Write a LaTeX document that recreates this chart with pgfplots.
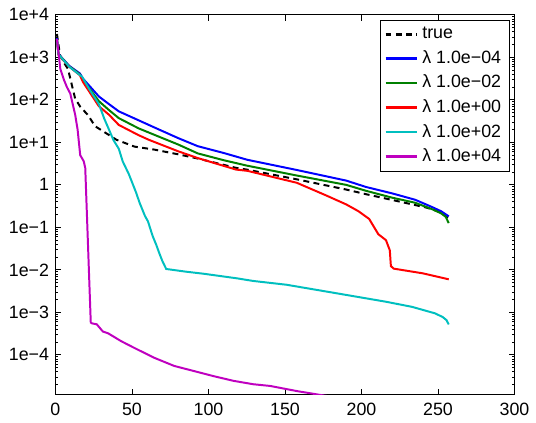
\documentclass[border=0pt]{standalone}
\usepackage{fontspec}
\setmainfont{Liberation Sans}
\usepackage{pgfplots}
\pgfplotsset{compat=1.18}
\definecolor{mgreen}{rgb}{0,0.5,0}
\definecolor{mcyan}{rgb}{0,0.75,0.75}
\definecolor{mmagenta}{rgb}{0.75,0,0.75}

\begin{document}
\begin{tikzpicture}
% keep the page at the proportions of the reference
\path (-28pt,-12pt) rectangle (240pt,199.5pt);
\begin{axis}[
    name=ax, at={(0,0)}, anchor=south west,
    width=232pt, height=192pt, scale only axis,
    ymode=log,
    xmin=0, xmax=300,
    ymin=1.15e-5, ymax=1e4,
    xtick={0,50,100,150,200,250,300},
    ytick={1e-4,1e-3,1e-2,1e-1,1,1e1,1e2,1e3,1e4},
    yticklabels={1e−4,1e−3,1e−2,1e−1,1,1e+1,1e+2,1e+3,1e+4},
    minor ytick={2e-5,3e-5,4e-5,5e-5,6e-5,7e-5,8e-5,9e-5,
        2e-4,3e-4,4e-4,5e-4,6e-4,7e-4,8e-4,9e-4,
        2e-3,3e-3,4e-3,5e-3,6e-3,7e-3,8e-3,9e-3,
        2e-2,3e-2,4e-2,5e-2,6e-2,7e-2,8e-2,9e-2,
        0.2,0.3,0.4,0.5,0.6,0.7,0.8,0.9,
        2,3,4,5,6,7,8,9,
        20,30,40,50,60,70,80,90,
        200,300,400,500,600,700,800,900,
        2000,3000,4000,5000,6000,7000,8000,9000},
    /pgf/number format/assume math mode=true,
    tick label style={font=\fontsize{9}{10}\selectfont},
    yticklabel style={xshift=0.3pt},
    xticklabel style={yshift=-0.8pt},
    major tick length=3pt, minor tick length=1.5pt,
    tick style={black, line width=0.4pt},
    axis line style={line width=0.5pt},
    legend style={at={(0.989,0.987)}, anchor=north east, draw=black,
        line width=0.5pt, font=\fontsize{9}{10}\selectfont,
        inner xsep=2pt, inner ysep=1.5pt, row sep=0.4pt},
    legend cell align=left,
    legend image code/.code={\draw[#1, line width=1.2pt] (0pt,0pt) -- (16pt,0pt);},
]
\addplot[black, line width=1pt, dash pattern=on 3pt off 2.2pt] coordinates {
(1,3548) (3,1122) (6,708) (8.2,537) (10.8,219) (12.9,107) (16.2,69.2)
(21.3,43.7) (25.9,24) (33.4,16.2) (39.9,11.5) (51.7,7.94) (64.6,6.76)
(80,5.25) (93,4.17) (118,2.51) (125,2.29) (157.7,1.35) (190,0.776)
(203,0.603) (242,0.295) (250,0.24) (257,0.166)};
\addlegendentry{true}
\addplot[blue, line width=1pt] coordinates {
(1,2818) (2,1202) (9,631) (16,417) (18,316) (28.4,120) (35,79.4)
(41.4,53.7) (54.3,33.1) (67.2,20.4) (80.2,12.6) (93,8.13) (110,5.62)
(125.4,3.89) (157.7,2.24) (190,1.26) (203,0.891) (220,0.631) (235,0.447)
(246,0.302) (252,0.24) (257,0.182)};
\addlegendentry{λ 1.0e−04}
\addplot[mgreen, line width=1pt] coordinates {
(1,2692) (2,1175) (9,617) (16,398) (18,295) (28.4,93.3) (35,57.5)
(41.4,37.2) (54.3,21.4) (67.2,13.8) (80.2,8.91) (93,5.5) (110,3.8)
(125.4,2.82) (157.7,1.66) (190,1.0) (203,0.724) (220,0.5) (235,0.38)
(246,0.269) (252,0.214) (255,0.178) (257,0.126)};
\addlegendentry{λ 1.0e−02}
\addplot[red, line width=1pt] coordinates {
(1,2630) (2,1148) (9,603) (16,380) (18,263) (28.4,70.8) (35,44.7)
(41.4,25.7) (54.3,14.8) (61,11.5) (80.2,6.17) (93,4.27) (118,2.29)
(125.4,2.14) (157.7,1.12) (177,0.562) (190,0.347) (198,0.24) (205,0.158)
(211,0.069) (216,0.05) (218.5,0.0288) (219.2,0.0123) (221,0.0107)
(240,0.0083) (257,0.006)};
\addlegendentry{λ 1.0e+00}
\addplot[mcyan, line width=1pt] coordinates {
(1,2692) (2,1175) (9,603) (17.5,347) (22,182) (28.4,79.4) (32,35.5)
(35,20) (38,11.2) (41.4,7.08) (44,3.55) (48,1.78) (52.6,0.676)
(55,0.38) (58.5,0.186) (60.5,0.138) (63.5,0.063) (66,0.038) (68,0.024)
(70,0.0158) (72.4,0.0105) (85,0.0091) (97,0.0081) (119,0.0063)
(129,0.0055) (151,0.00447) (183.6,0.00282) (216,0.00178) (233,0.00135)
(248,0.00095) (253,0.00078) (255.5,0.00066) (257,0.00052)};
\addlegendentry{λ 1.0e+02}
\addplot[mmagenta, line width=1pt] coordinates {
(1,2692) (3.2,537) (5.5,300) (7.5,200) (9.7,141) (12.9,45) (14.5,20)
(16.2,5) (18.5,3.6) (19.5,2.5) (23.1,5.75e-4) (24,5.5e-4) (27,5.25e-4)
(31,3.55e-4) (34.3,3.24e-4) (43.1,2.09e-4) (51.7,1.45e-4) (64.7,8.51e-5)
(77.6,5.5e-5) (90.5,4.17e-5) (103.4,3.16e-5) (116.4,2.45e-5)
(129.3,2.04e-5) (140.3,1.86e-5) (157.7,1.41e-5) (172.6,1.15e-5)
(200,8e-6) (257,4e-6)};
\addlegendentry{λ 1.0e+04}
\end{axis}
\end{tikzpicture}
\end{document}
